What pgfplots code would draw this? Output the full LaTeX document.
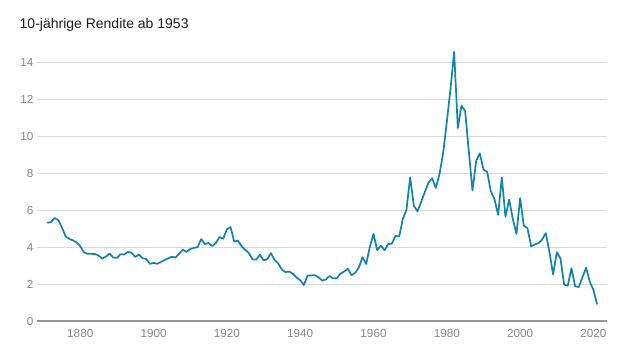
\documentclass[border=0pt]{standalone}
\usepackage{pgfplots}
\pgfplotsset{compat=1.18}
\usepackage{pgfplotstable}
\usepackage{fontspec}
\setmainfont{Liberation Sans}
\definecolor{linec}{RGB}{16,132,170}
\definecolor{gridc}{RGB}{218,218,218}
\definecolor{basec}{RGB}{150,150,150}
\definecolor{tickc}{RGB}{135,135,135}
\definecolor{subc}{RGB}{30,30,30}
\pgfplotstableread{
year rate
1871 5.32
1872 5.36
1873 5.58
1874 5.47
1875 5.07
1876 4.59
1877 4.45
1878 4.37
1879 4.26
1880 4.05
1881 3.72
1882 3.64
1883 3.64
1884 3.63
1885 3.55
1886 3.38
1887 3.49
1888 3.66
1889 3.44
1890 3.42
1891 3.62
1892 3.60
1893 3.75
1894 3.70
1895 3.47
1896 3.60
1897 3.41
1898 3.36
1899 3.10
1900 3.15
1901 3.10
1902 3.20
1903 3.30
1904 3.40
1905 3.48
1906 3.44
1907 3.65
1908 3.86
1909 3.75
1910 3.90
1911 3.96
1912 4.00
1913 4.44
1914 4.17
1915 4.23
1916 4.06
1917 4.23
1918 4.55
1919 4.46
1920 4.97
1921 5.09
1922 4.30
1923 4.36
1924 4.06
1925 3.86
1926 3.68
1927 3.34
1928 3.33
1929 3.60
1930 3.29
1931 3.34
1932 3.68
1933 3.31
1934 3.12
1935 2.79
1936 2.65
1937 2.68
1938 2.56
1939 2.36
1940 2.21
1941 1.95
1942 2.46
1943 2.47
1944 2.48
1945 2.37
1946 2.19
1947 2.25
1948 2.44
1949 2.31
1950 2.32
1951 2.57
1952 2.68
1953 2.83
1954 2.48
1955 2.61
1956 2.90
1957 3.46
1958 3.09
1959 4.02
1960 4.72
1961 3.84
1962 4.08
1963 3.83
1964 4.17
1965 4.19
1966 4.61
1967 4.58
1968 5.53
1969 6.04
1970 7.79
1971 6.24
1972 5.95
1973 6.46
1974 6.99
1975 7.50
1976 7.74
1977 7.21
1978 7.96
1979 9.10
1980 10.80
1981 12.57
1982 14.59
1983 10.46
1984 11.67
1985 11.38
1986 9.19
1987 7.08
1988 8.67
1989 9.09
1990 8.21
1991 8.09
1992 7.03
1993 6.60
1994 5.75
1995 7.78
1996 5.65
1997 6.58
1998 5.54
1999 4.72
2000 6.66
2001 5.16
2002 5.04
2003 4.05
2004 4.15
2005 4.22
2006 4.42
2007 4.76
2008 3.74
2009 2.52
2010 3.73
2011 3.39
2012 1.97
2013 1.91
2014 2.86
2015 1.88
2016 1.84
2017 2.37
2018 2.89
2019 2.13
2020 1.68
2021 0.90
}\ratedata
\begin{document}
\begin{tikzpicture}
\useasboundingbox (0,0) rectangle (640bp,360bp);
\node[anchor=base west, inner sep=0pt, font=\fontsize{14bp}{16bp}\selectfont, text=subc] at (19.5bp,331.7bp) {10-jährige Rendite ab 1953};
\begin{axis}[
  at={(37bp,39bp)}, anchor=south west,
  scale only axis,
  width=570bp, height=276.75bp,
  xmin=1868.2, xmax=2023.7,
  ymin=0, ymax=15,
  axis line style={draw=none},
  axis x line*=bottom, axis y line*=left,
  xtick={1880,1900,...,2020},
  ytick={0,2,...,14},
  major tick length=0pt,
  ymajorgrids,
  grid style={draw=gridc, line width=1bp},
  /pgf/number format/.cd, 1000 sep={}, assume math mode=true,
  /pgfplots/.cd,
  tick label style={font=\fontsize{11.7bp}{13bp}\selectfont, text=tickc},
  yticklabel style={anchor=east, inner sep=0pt, xshift=-3.5bp},
  xticklabel style={anchor=north, inner sep=0pt, yshift=-8.3bp},
  clip=false,
]
\addplot[draw=linec, line width=1.7bp, line join=round, mark=none] table[x=year, y=rate] {\ratedata};
\draw[basec, line width=2bp] (axis cs:1868.2,0) -- (axis cs:2023.7,0);
\end{axis}
\end{tikzpicture}
\end{document}
